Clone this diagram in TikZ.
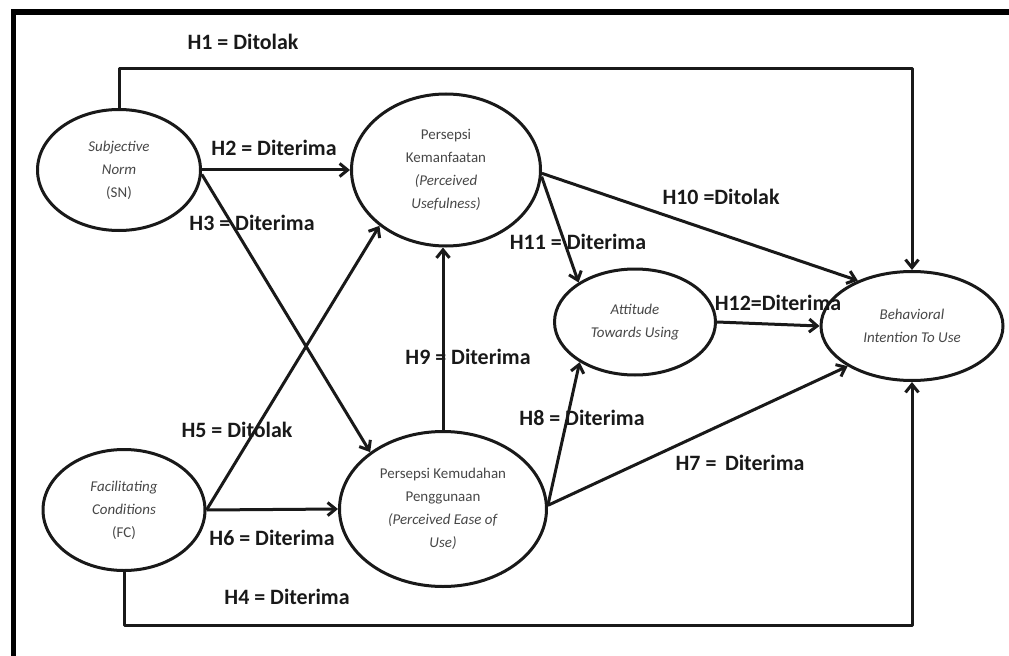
\documentclass[tikz,border=0pt]{standalone}
\usepackage{fontspec}
\setmainfont{Carlito}
\usepackage{tikz}
\usetikzlibrary{shapes.geometric, arrows.meta, positioning, calc}

\begin{document}
\begin{tikzpicture}[
  x=1bp, y=-1bp,
  line join=round,
  >={Straight Barb[length=8bp,width=13bp]},
  flow/.style={->, line width=3bp, draw=black!90},
  frame/.style={line width=5.5bp, draw=black, line join=miter},
  construct/.style={
    ellipse, draw=black!90, line width=3bp, fill=white, inner sep=0pt,
    align=center, text=black!72, font=\fontsize{15}{23}\selectfont
  },
  hyp/.style={font=\fontsize{22}{26}\selectfont\bfseries, text=black!90,
              inner sep=0pt}
]
\useasboundingbox (0,0) rectangle (1009,656);
\draw[frame] (13.5,656) -- (13.5,12) -- (1009,12);
% constructs
\node[construct, minimum width=163bp, minimum height=121bp] (sn) at (119,170)
  {\textit{Subjective}\\\textit{Norm}\\(SN)};
\node[construct, minimum width=162bp, minimum height=121bp] (fc) at (124,510)
  {\textit{Facilitating}\\\textit{Conditions}\\(FC)};
\node[construct, minimum width=189bp, minimum height=152bp] (pu) at (446,170)
  {Persepsi\\Kemanfaatan\\\textit{(Perceived}\\\textit{Usefulness)}};
\node[construct, minimum width=207bp, minimum height=155bp] (peou) at (443,509)
  {Persepsi Kemudahan\\Penggunaan\\\textit{(Perceived Ease of}\\\textit{Use)}};
\node[construct, minimum width=161bp, minimum height=106bp] (atu) at (635,322)
  {\textit{Attitude}\\\textit{Towards Using}};
\node[construct, minimum width=182bp, minimum height=109bp] (bi) at (912,326)
  {\textit{Behavioral}\\\textit{Intention To Use}};
% paths
\coordinate (topBus) at (0,69);
\coordinate (botBus) at (0,625);
\draw[flow] (sn.north) -- (sn.north |- topBus) -| (bi.north);
\draw[flow] (fc.south) -- (fc.south |- botBus) -| (bi.south);
\draw[flow] (sn.east) -- (pu.west);
\draw[flow] (sn.-3) -- (peou.142);
\draw[flow] (fc.east) -- (pu.220);
\draw[flow] (fc.east) -- (peou.west);
\draw[flow] (peou.north) -- (peou.north |- pu.south);
\draw[flow] (pu.-4) -- (atu.145);
\draw[flow] (pu.-2) -- (bi.140);
\draw[flow] (peou.2) -- (atu.216);
\draw[flow] (peou.2) -- (bi.212);
\draw[flow] (atu.east) -- (bi.west);
% hypothesis labels
\node[hyp] (h1)  at (243,42)  {H1 = Ditolak};
\node[hyp] (h2)  at (274,148) {H2 = Diterima};
\node[hyp] (h3)  at (252,223) {H3 = Diterima};
\node[hyp] (h4)  at (287,597) {H4 = Diterima};
\node[hyp] (h5)  at (237,430) {H5 = Ditolak};
\node[hyp] (h6)  at (272,538) {H6 = Diterima};
\node[hyp] (h7)  at (740,463) {H7 = \,Diterima};
\node[hyp] (h8)  at (582,418) {H8 = Diterima};
\node[hyp] (h9)  at (468,357) {H9 = Diterima};
\node[hyp] (h10) at (721,197) {H10 =Ditolak};
\node[hyp] (h11) at (578,242) {H11 = Diterima};
\node[hyp] (h12) at (778,303) {H12=Diterima};
\end{tikzpicture}
\end{document}
